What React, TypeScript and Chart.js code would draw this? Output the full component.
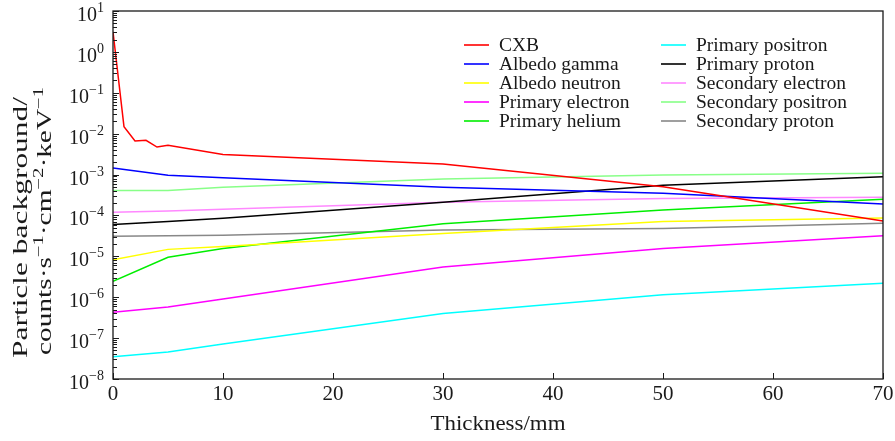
import React, { useEffect, useRef } from "react";
import { Chart, registerables } from "chart.js";

Chart.register(...registerables);

// ---------- data ----------
const thicknessCXB = [0, 1, 2, 3, 4, 5, 10, 30, 50, 70];
const thickness = [0, 5, 10, 30, 50, 70];

const cxb = [3.1, 0.0147, 0.0066, 0.0069, 0.0047, 0.0052, 0.0031, 0.0018, 5.0e-4, 7.3e-5];
const albedoGamma = [1.45e-3, 9.6e-4, 8.3e-4, 4.9e-4, 3.5e-4, 1.9e-4];
const albedoNeutron = [8.3e-6, 1.48e-5, 1.74e-5, 3.6e-5, 7.1e-5, 8.7e-5];
const primaryElectron = [4.3e-7, 5.8e-7, 9.1e-7, 5.5e-6, 1.55e-5, 3.2e-5];
const primaryHelium = [2.45e-6, 9.5e-6, 1.55e-5, 6.3e-5, 1.35e-4, 2.5e-4];
const primaryPositron = [3.5e-8, 4.6e-8, 7.2e-8, 4.0e-7, 1.15e-6, 2.2e-6];
const primaryProton = [6.0e-5, 7.1e-5, 8.5e-5, 2.1e-4, 5.5e-4, 8.9e-4];
const secondaryElectron = [1.2e-4, 1.29e-4, 1.41e-4, 2.1e-4, 2.6e-4, 2.8e-4];
const secondaryPositron = [4.1e-4, 4.1e-4, 4.9e-4, 7.8e-4, 9.8e-4, 1.07e-3];
const secondaryProton = [3.1e-5, 3.2e-5, 3.3e-5, 4.4e-5, 4.8e-5, 6.4e-5];

const seriesNames = [
  "CXB",
  "Albedo gamma",
  "Albedo neutron",
  "Primary electron",
  "Primary helium",
  "Primary positron",
  "Primary proton",
  "Secondary electron",
  "Secondary positron",
  "Secondary proton",
];
const seriesColors = [
  "#ff0000",
  "#0000ff",
  "#ffff00",
  "#ff00ff",
  "#00ee00",
  "#00ffff",
  "#000000",
  "#ff88ff",
  "#88ff88",
  "#888888",
];

const yTickExponents = [1, 0, -1, -2, -3, -4, -5, -6, -7, -8];
const xTickValues = [0, 10, 20, 30, 40, 50, 60, 70];
const xTitle = "Thickness/mm";
const yTitleLine1 = "Particle background/";
const yTitleLine2: [string, boolean][] = [
  ["counts·s", false],
  ["−1", true],
  ["·cm", false],
  ["−2", true],
  ["·keV", false],
  ["−1", true],
];

const SERIF = '"Liberation Serif", "Times New Roman", serif';
const TEXT = "#1a1a1a";

function toPoints(xs: number[], ys: number[]) {
  return xs.map((x, i) => ({ x, y: ys[i] }));
}

function richWidth(ctx: CanvasRenderingContext2D, segs: [string, boolean][], size: number, sup: number) {
  let w = 0;
  for (const [t, s] of segs) {
    ctx.font = `${s ? sup : size}px ${SERIF}`;
    w += ctx.measureText(t).width;
  }
  return w;
}

function drawRich(
  ctx: CanvasRenderingContext2D,
  segs: [string, boolean][],
  x: number,
  y: number,
  size: number,
  sup: number,
  raise: number
) {
  let cx = x;
  for (const [t, s] of segs) {
    ctx.font = `${s ? sup : size}px ${SERIF}`;
    ctx.fillText(t, cx, s ? y - raise : y);
    cx += ctx.measureText(t).width;
  }
}

const axesPlugin = {
  id: "customAxes",
  afterDraw(chart: any) {
    const ctx: CanvasRenderingContext2D = chart.ctx;
    const { left, right, top, bottom } = chart.chartArea;
    const xs = chart.scales.x;
    const ys = chart.scales.y;
    ctx.save();

    // frame
    ctx.strokeStyle = "#1a1a1a";
    ctx.lineWidth = 1.3;
    ctx.strokeRect(left, top, right - left, bottom - top);

    // y ticks
    ctx.lineWidth = 1;
    for (const e of yTickExponents) {
      const py = Math.round(ys.getPixelForValue(Math.pow(10, e))) + 0.5;
      ctx.beginPath();
      ctx.moveTo(left, py);
      ctx.lineTo(left + 6, py);
      ctx.stroke();
      if (e < 1) {
        for (let k = 2; k <= 9; k++) {
          const my = Math.round(ys.getPixelForValue(k * Math.pow(10, e))) + 0.5;
          ctx.beginPath();
          ctx.moveTo(left, my);
          ctx.lineTo(left + 4, my);
          ctx.stroke();
        }
      }
    }
    // x ticks
    for (const v of xTickValues) {
      const px = Math.round(xs.getPixelForValue(v)) + 0.5;
      ctx.beginPath();
      ctx.moveTo(px, bottom);
      ctx.lineTo(px, bottom - 6);
      ctx.stroke();
    }

    ctx.fillStyle = TEXT;
    ctx.textBaseline = "alphabetic";
    ctx.textAlign = "left";

    // y tick labels
    const base = 20;
    const supSize = 14;
    for (const e of yTickExponents) {
      const py = ys.getPixelForValue(Math.pow(10, e));
      const expStr = e < 0 ? "−" + Math.abs(e) : String(e);
      const segs: [string, boolean][] = [
        ["10", false],
        [expStr, true],
      ];
      const w = richWidth(ctx, segs, base, supSize) + 1;
      drawRich(ctx, segs, left - 8 - w, py + 10, base, supSize, 9);
    }

    // x tick labels
    ctx.font = `21px ${SERIF}`;
    ctx.textAlign = "center";
    for (const v of xTickValues) {
      const px = xs.getPixelForValue(v);
      ctx.fillText(String(v), px, bottom + 21);
    }

    // x title (stretched horizontally to reference width)
    ctx.save();
    ctx.font = `21px ${SERIF}`;
    const xtW = ctx.measureText(xTitle).width;
    ctx.translate((left + right) / 2, 430);
    ctx.scale(135 / xtW, 1);
    ctx.fillText(xTitle, 0, 0);
    ctx.restore();

    // y title line 1
    ctx.save();
    ctx.font = `${base}px ${SERIF}`;
    const l1W = ctx.measureText(yTitleLine1).width;
    ctx.translate(27, 227.5);
    ctx.rotate(-Math.PI / 2);
    ctx.scale(261 / l1W, 1);
    ctx.textAlign = "center";
    ctx.fillText(yTitleLine1, 0, 0);
    ctx.restore();

    // y title line 2
    ctx.save();
    ctx.textAlign = "left";
    const w2 = richWidth(ctx, yTitleLine2, base, supSize);
    ctx.translate(51, 221);
    ctx.rotate(-Math.PI / 2);
    ctx.scale(268 / w2, 1);
    drawRich(ctx, yTitleLine2, -w2 / 2, 0, base, supSize, 8);
    ctx.restore();

    // legend
    ctx.textAlign = "left";
    ctx.textBaseline = "middle";
    ctx.font = `19.5px ${SERIF}`;
    const colX = [464, 661];
    const rowY0 = 45;
    const rowH = 19;
    chart.data.datasets.forEach((ds: any, i: number) => {
      const col = i < 5 ? 0 : 1;
      const row = i % 5;
      const x0 = colX[col];
      const y0 = rowY0 + row * rowH;
      ctx.strokeStyle = ds.borderColor;
      ctx.lineWidth = 1.6;
      ctx.beginPath();
      ctx.moveTo(x0, y0);
      ctx.lineTo(x0 + 25, y0);
      ctx.stroke();
      ctx.fillStyle = TEXT;
      ctx.fillText(ds.label, x0 + 35, y0 + 1);
    });

    ctx.restore();
  },
};

export default function App() {
  const ref = useRef<HTMLCanvasElement | null>(null);
  useEffect(() => {
    document.body.style.margin = "0";
    const canvas = ref.current;
    if (!canvas) return;
    const seriesValues = [
      albedoGamma,
      albedoNeutron,
      primaryElectron,
      primaryHelium,
      primaryPositron,
      primaryProton,
      secondaryElectron,
      secondaryPositron,
      secondaryProton,
    ];
    const datasets: any[] = [
      {
        label: seriesNames[0],
        data: toPoints(thicknessCXB, cxb),
        borderColor: seriesColors[0],
      },
      ...seriesValues.map((vals, i) => ({
        label: seriesNames[i + 1],
        data: toPoints(thickness, vals),
        borderColor: seriesColors[i + 1],
      })),
    ].map((d) => ({ ...d, borderWidth: 1.5, pointRadius: 0, tension: 0, fill: false }));

    const chart = new Chart(canvas, {
      type: "line",
      data: { datasets },
      options: {
        responsive: false,
        animation: false,
        devicePixelRatio: 1,
        layout: { padding: { left: 113, right: 12, top: 11, bottom: 62 } },
        plugins: { legend: { display: false }, tooltip: { enabled: false } },
        scales: {
          x: { type: "linear", min: 0, max: 70, display: false },
          y: { type: "logarithmic", min: 1e-8, max: 10, display: false },
        },
      },
      plugins: [axesPlugin],
    });
    return () => chart.destroy();
  }, []);
  return (
    <div style={{ width: 895, height: 441, background: "#fff" }}>
      <canvas ref={ref} width={895} height={441} style={{ display: "block" }} />
    </div>
  );
}
